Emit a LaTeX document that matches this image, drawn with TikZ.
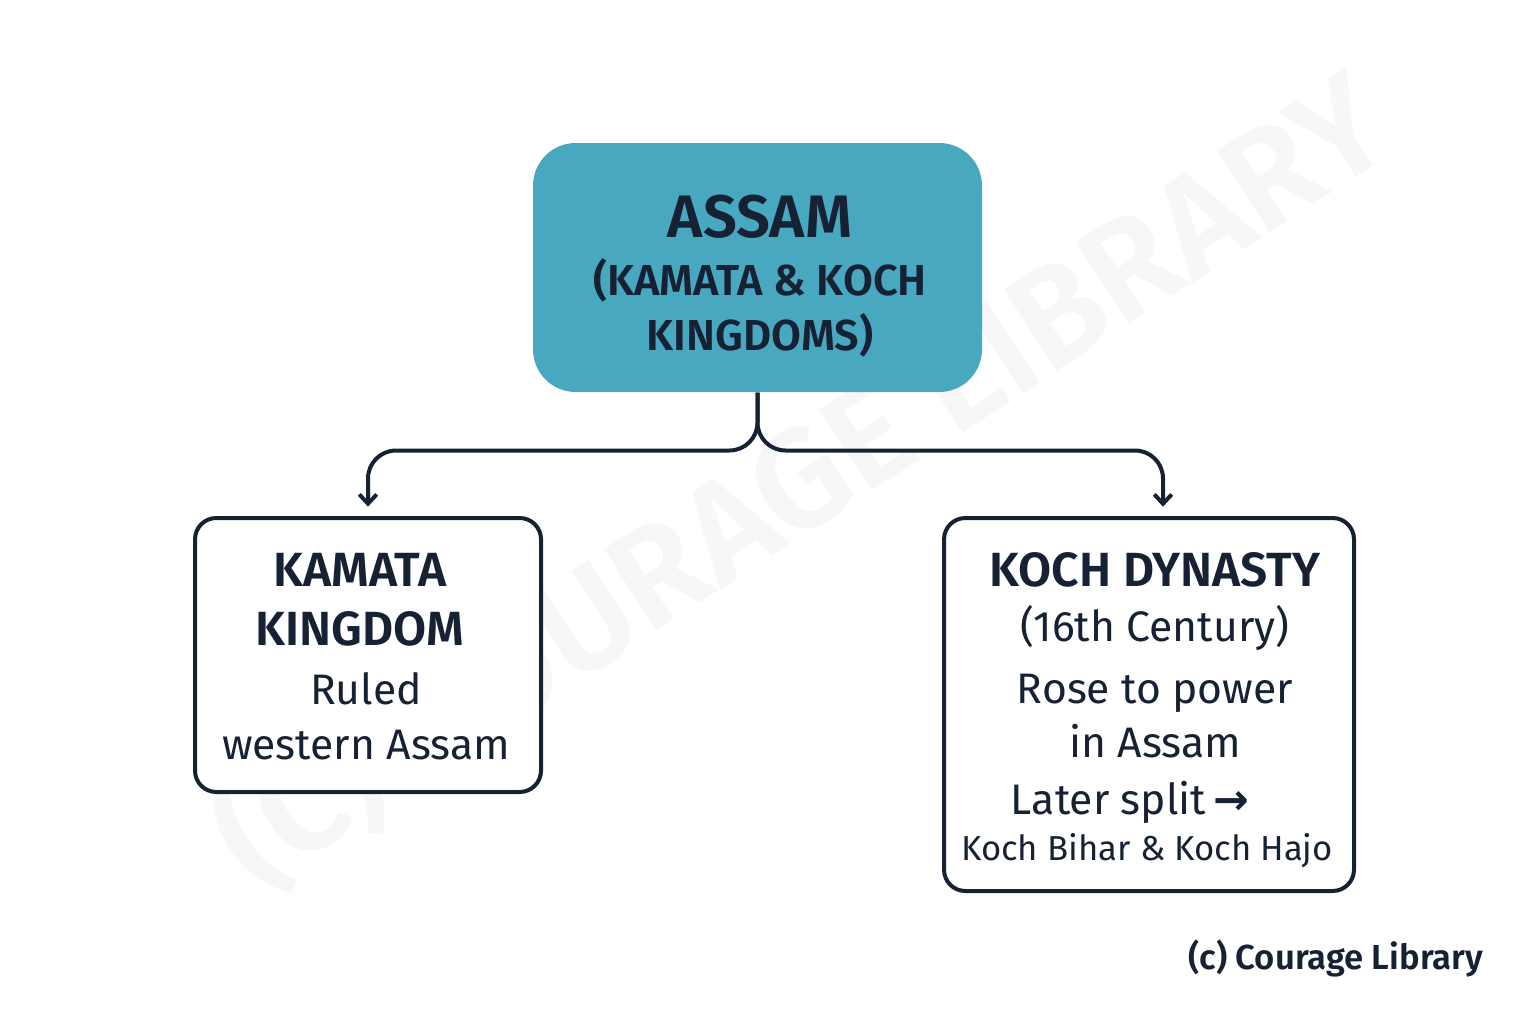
\documentclass[tikz,border=0pt]{standalone}
\usepackage{fontspec}
\setmainfont{Fira Sans}[BoldFont={Fira Sans SemiBold}]
\newfontfamily\symfont{DejaVu Sans}
\usetikzlibrary{arrows.meta}
\definecolor{ink}{RGB}{22,34,52}
\definecolor{teal}{RGB}{72,168,192}
\tikzset{every picture/.style={line width=0.75pt}}
\tikzset{
  box/.style={draw=ink, line width=3pt, rounded corners=16pt, fill=white, inner sep=0pt},
  link/.style={draw=ink, line width=3pt, rounded corners=21pt, -{Straight Barb[length=7pt,width=13pt]}, shorten >=7pt}
}
\begin{document}
\begin{tikzpicture}[x=0.75pt,y=0.75pt,yscale=-1,xscale=1]
\useasboundingbox (0,0) rectangle (1536,1024);

% watermark
\node [rotate=33, text=black!3, font=\bfseries\fontsize{105}{105}\selectfont] (wm) at (800,480) {(C) COURAGE LIBRARY};

% boxes
\node [fill=teal, rounded corners=32pt, inner sep=0pt, minimum width=336.75pt, minimum height=186.75pt] (assam) at (757.5,267.5) {};
\node [box, minimum width=259.5pt, minimum height=205.5pt] (kamata) at (368,655) {};
\node [box, minimum width=307.5pt, minimum height=279.75pt] (koch) at (1149,704.5) {};

% connectors
\draw [link] (assam.south) -- ++(0,58) -| (kamata.north);
\draw [link] (assam.south) -- ++(0,58) -| ([xshift=10.5pt]koch.north);

% texts
\node [text=ink, align=center, font=\fontsize{45}{56}\selectfont\bfseries] (t1) at (760,217) {ASSAM};
\node [text=ink, align=center, font=\fontsize{32.5}{41}\selectfont\bfseries] (t2) at (760,308) {(KAMATA \& KOCH\\KINGDOMS)};
\node [text=ink, align=center, font=\fontsize{36}{44}\selectfont\bfseries] (t3) at (360,600) {KAMATA\\KINGDOM};
\node [text=ink, align=center, font=\fontsize{32}{41}\selectfont] (t4) at (366,716) {Ruled\\western Assam};
\node [text=ink, align=center, font=\fontsize{36}{44}\selectfont\bfseries] (t5) at (1155,570) {KOCH DYNASTY};
\node [text=ink, align=center, font=\fontsize{32}{41}\selectfont] (t6) at (1155,628) {(16th Century)};
\node [text=ink, align=center, font=\fontsize{32}{41}\selectfont] (t7) at (1155,716) {Rose to power\\in Assam};
\node [text=ink, anchor=west, font=\fontsize{32}{41}\selectfont] (t8) at (1006,802) {Later split\,{\symfont\bfseries →}};
\node [text=ink, align=center, font=\fontsize{26}{34}\selectfont] (t9) at (1147,851) {Koch Bihar \& Koch Hajo};
\node [text=ink, anchor=east, font=\fontsize{26}{32}\selectfont\bfseries] (ft) at (1488,958) {(c) Courage Library};
\end{tikzpicture}
\end{document}
